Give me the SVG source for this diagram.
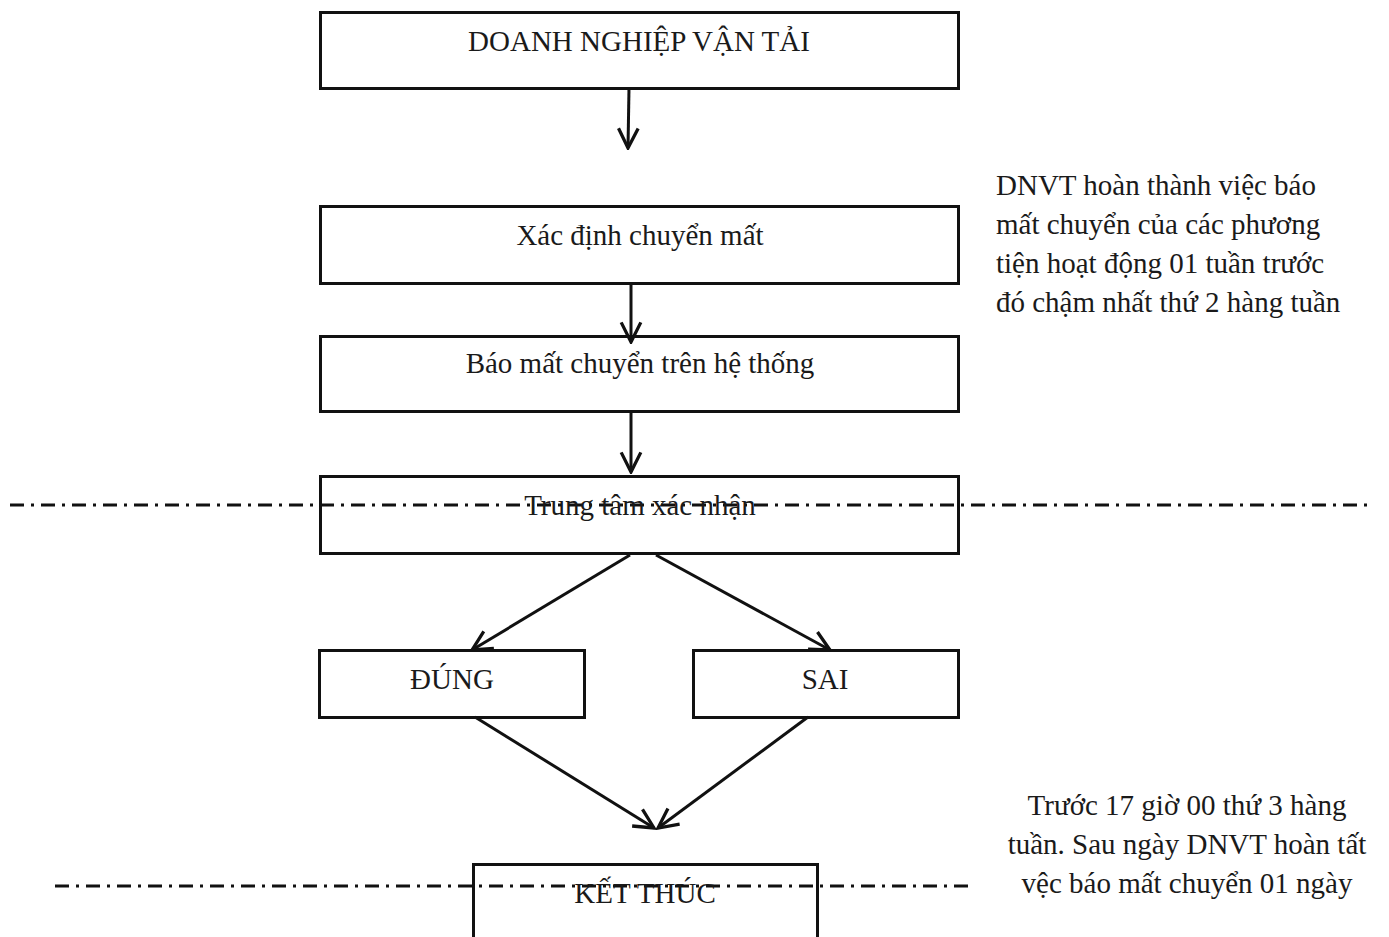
<svg xmlns="http://www.w3.org/2000/svg" width="1389" height="937" viewBox="0 0 1389 937">
<style>
.box{fill:none;stroke:#111;stroke-width:3}
.t{font-family:"Liberation Serif","Times New Roman",serif;font-size:29px;fill:#1a1a1a;text-anchor:middle}
.n{font-family:"Liberation Serif","Times New Roman",serif;font-size:29px;fill:#1a1a1a}
.c{fill:none;stroke:#111;stroke-width:3;marker-end:url(#ah)}
.dd{stroke:#111;stroke-width:3;stroke-dasharray:14 7 3 7;fill:none}
</style>
<defs>
<marker id="ah" markerWidth="24" markerHeight="24" viewBox="-20 -11 22 22" refX="0" refY="0" orient="auto" markerUnits="userSpaceOnUse">
<polyline points="-18,-9 0,0 -18,9" fill="none" stroke="#111" stroke-width="3"/>
</marker>
</defs>
<rect width="1389" height="937" fill="#fff"/>
<g id="guides">
<line class="dd" x1="10" y1="505" x2="1372" y2="505"/>
<line class="dd" x1="55" y1="886" x2="968" y2="886"/>
</g>
<g id="connectors">
<path class="c" d="M629 88 L628 148"/>
<path class="c" d="M631 283 L631 342"/>
<path class="c" d="M631 411 L631 472"/>
<path class="c" d="M630 555 L472 650"/>
<path class="c" d="M656 555 L830 650"/>
<path class="c" d="M475 717 L654 828"/>
<path class="c" d="M808 717 L658 828"/>
</g>
<g id="n1"><rect class="box" x="320.5" y="12.5" width="638" height="76"/><text class="t" x="639" y="51">DOANH NGHIỆP VẬN TẢI</text></g>
<g id="n2"><rect class="box" x="320.5" y="206.5" width="638" height="77"/><text class="t" x="640" y="245">Xác định chuyển mất</text></g>
<g id="n3"><rect class="box" x="320.5" y="336.5" width="638" height="75"/><text class="t" x="640" y="373">Báo mất chuyển trên hệ thống</text></g>
<g id="n4"><rect class="box" x="320.5" y="476.5" width="638" height="77"/><text class="t" x="640" y="515">Trung tâm xác nhận</text></g>
<g id="n5"><rect class="box" x="319.5" y="650.5" width="265" height="67"/><text class="t" x="452" y="689">ĐÚNG</text></g>
<g id="n6"><rect class="box" x="693.5" y="650.5" width="265" height="67"/><text class="t" x="825" y="689">SAI</text></g>
<g id="n7"><rect class="box" x="473.5" y="864.5" width="344" height="80"/><text class="t" x="645" y="903">KẾT THÚC</text></g>
<g id="note1">
<text class="n" x="996" y="195">DNVT hoàn thành việc báo</text>
<text class="n" x="996" y="234">mất chuyển của các phương</text>
<text class="n" x="996" y="273">tiện hoạt động 01 tuần trước</text>
<text class="n" x="996" y="312">đó chậm nhất thứ 2 hàng tuần</text>
</g>
<g id="note2">
<text class="t" x="1187" y="815">Trước 17 giờ 00 thứ 3 hàng</text>
<text class="t" x="1187" y="854">tuần. Sau ngày DNVT hoàn tất</text>
<text class="t" x="1187" y="893">vệc báo mất chuyển 01 ngày</text>
</g>
</svg>
